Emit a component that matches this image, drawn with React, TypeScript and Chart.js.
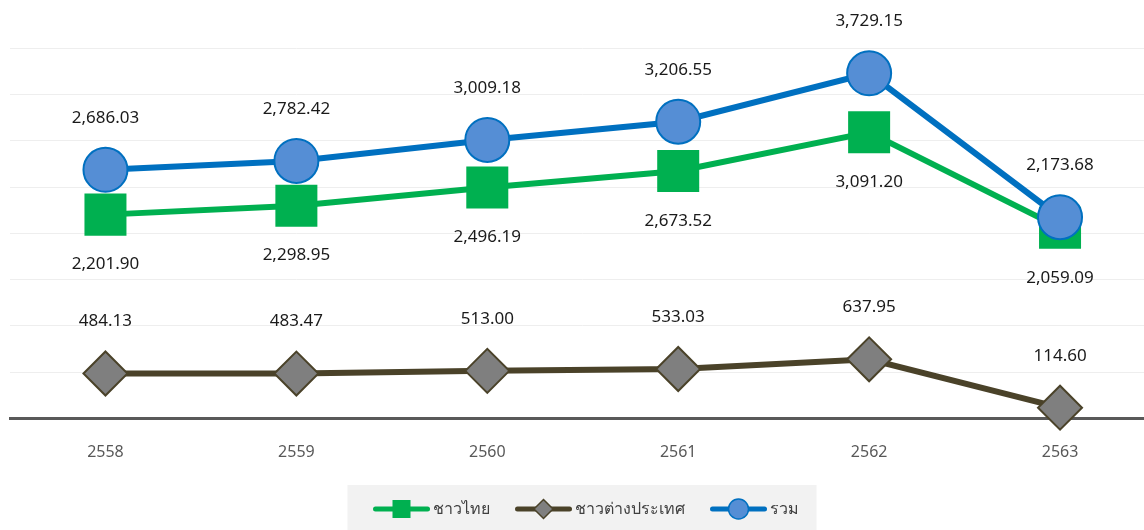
import React, { useEffect, useRef } from 'react';
import { Chart, registerables } from 'chart.js';

Chart.register(...registerables);

const categories = ['2558', '2559', '2560', '2561', '2562', '2563'];
const thaiValues = [2201.9, 2298.95, 2496.19, 2673.52, 3091.2, 2059.09];
const foreignValues = [484.13, 483.47, 513.0, 533.03, 637.95, 114.6];
const totalValues = [2686.03, 2782.42, 3009.18, 3206.55, 3729.15, 2173.68];
const seriesNames = ['ชาวไทย', 'ชาวต่างประเทศ', 'รวม'];
const yMin = 0;
const yMax = 4000;
const yStep = 500;

const LABEL_FONT = '17px "Noto Sans", "Open Sans", sans-serif';
const LEGEND_FONT = '16px "Noto Sans", "Open Sans", sans-serif';

const fmt = (v: number) =>
  v.toLocaleString('en-US', { minimumFractionDigits: 2, maximumFractionDigits: 2 });

const valueLabelPlugin = {
  id: 'valueLabels',
  afterDatasetsDraw(chart: any) {
    const ctx = chart.ctx;
    ctx.save();
    ctx.font = LABEL_FONT;
    ctx.fillStyle = '#1a1a1a';
    ctx.textAlign = 'center';
    ctx.textBaseline = 'middle';
    chart.data.datasets.forEach((ds: any, i: number) => {
      const meta = chart.getDatasetMeta(i);
      meta.data.forEach((pt: any, j: number) => {
        const off = ds.labelPos === 'below' ? 50 : -52;
        ctx.fillText(fmt(ds.data[j]), pt.x, pt.y + off);
      });
    });
    ctx.restore();
  },
};

const legendPlugin = {
  id: 'customLegend',
  afterDraw(chart: any) {
    const ctx = chart.ctx;
    ctx.save();
    ctx.font = LEGEND_FONT;
    const lineLen = 56;
    const gapText = 3;
    const gapItem = 26;
    const items = chart.data.datasets
      .map((ds: any) => ds)
      .sort((a: any, b: any) => a.legendIndex - b.legendIndex);
    const widths = items.map((ds: any) => lineLen + gapText + ctx.measureText(ds.label).width);
    const total = widths.reduce((a: number, b: number) => a + b, 0) + gapItem * (items.length - 1);
    const cx = 586;
    const cy = 509;
    let x = cx - total / 2;
    ctx.fillStyle = '#f2f2f2';
    ctx.fillRect(x - 26, 485, total + 44, 45);
    items.forEach((ds: any, k: number) => {
      ctx.lineCap = 'round';
      ctx.strokeStyle = ds.borderColor;
      ctx.lineWidth = 5;
      ctx.beginPath();
      ctx.moveTo(x + 2, cy);
      ctx.lineTo(x + lineLen - 2, cy);
      ctx.stroke();
      const mx = x + lineLen / 2;
      ctx.fillStyle = ds.pointBackgroundColor;
      ctx.strokeStyle = ds.pointBorderColor;
      ctx.lineWidth = 1.5;
      if (ds.pointStyle === 'rect') {
        ctx.fillRect(mx - 9, cy - 9, 18, 18);
      } else if (ds.pointStyle === 'rectRot') {
        ctx.beginPath();
        ctx.moveTo(mx, cy - 9.5);
        ctx.lineTo(mx + 9.5, cy);
        ctx.lineTo(mx, cy + 9.5);
        ctx.lineTo(mx - 9.5, cy);
        ctx.closePath();
        ctx.fill();
        ctx.stroke();
      } else {
        ctx.beginPath();
        ctx.arc(mx, cy, 10, 0, Math.PI * 2);
        ctx.fill();
        ctx.stroke();
      }
      ctx.fillStyle = '#404040';
      ctx.textAlign = 'left';
      ctx.textBaseline = 'middle';
      ctx.fillText(ds.label, x + lineLen + gapText, cy);
      x += widths[k] + gapItem;
    });
    ctx.restore();
  },
};

export default function App() {
  const ref = useRef<HTMLCanvasElement>(null);

  useEffect(() => {
    if (!ref.current) return;
    const chart = new Chart(ref.current, {
      type: 'line',
      data: {
        labels: categories,
        datasets: [
          {
            label: seriesNames[2],
            data: totalValues,
            borderColor: '#0070c0',
            borderWidth: 6,
            pointStyle: 'circle',
            pointRadius: 22,
            pointHoverRadius: 22,
            pointBackgroundColor: '#558ed5',
            pointBorderColor: '#0070c0',
            pointBorderWidth: 2,
            order: 0,
            clip: false,
            labelPos: 'above',
            legendIndex: 2,
          } as any,
          {
            label: seriesNames[0],
            data: thaiValues,
            borderColor: '#00b050',
            borderWidth: 6,
            pointStyle: 'rect',
            pointRadius: 29.7,
            pointHoverRadius: 29.7,
            pointBackgroundColor: '#00b050',
            pointBorderColor: '#00b050',
            pointBorderWidth: 0,
            order: 1,
            clip: false,
            labelPos: 'below',
            legendIndex: 0,
          } as any,
          {
            label: seriesNames[1],
            data: foreignValues,
            borderColor: '#4a4229',
            borderWidth: 6,
            pointStyle: 'rectRot',
            pointRadius: 22,
            pointHoverRadius: 22,
            pointBackgroundColor: '#7f7f7f',
            pointBorderColor: '#4a4229',
            pointBorderWidth: 2,
            order: 2,
            clip: false,
            labelPos: 'above',
            legendIndex: 1,
          } as any,
        ],
      },
      options: {
        responsive: false,
        animation: false,
        devicePixelRatio: 1,
        layout: { autoPadding: false, padding: { left: 10, right: 4.5, top: 48.3, bottom: 42.5 } },
        plugins: {
          legend: { display: false },
          tooltip: { enabled: false },
        },
        scales: {
          x: {
            offset: true,
            grid: { display: false, drawTicks: false },
            border: { display: true, color: '#595959', width: 3 },
            ticks: {
              color: '#595959',
              padding: 25,
              font: { family: '"Noto Sans", "Open Sans", sans-serif', size: 16 },
            },
          },
          y: {
            min: yMin,
            max: yMax,
            ticks: { display: false, stepSize: yStep },
            grid: { color: '#eeeeee', lineWidth: 1, drawTicks: false },
            border: { display: false },
          },
        },
      },
      plugins: [valueLabelPlugin, legendPlugin],
    });
    return () => chart.destroy();
  }, []);

  return (
    <div
      style={{
        position: 'fixed',
        left: 0,
        top: 0,
        width: 1144,
        height: 530,
        overflow: 'hidden',
        background: '#ffffff',
      }}
    >
      <canvas ref={ref} width={1160} height={530} style={{ display: 'block' }} />
    </div>
  );
}
